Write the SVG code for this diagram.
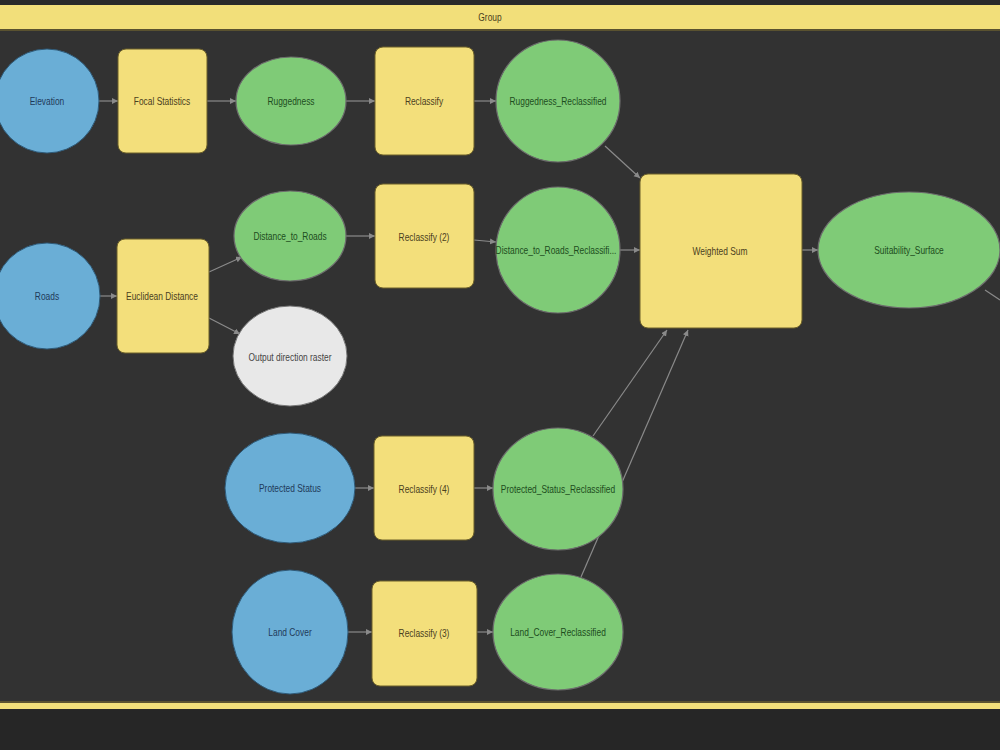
<svg xmlns="http://www.w3.org/2000/svg" width="1000" height="750" viewBox="0 0 1000 750">
<defs>
<style>
text{font-family:"Liberation Sans",Arial,sans-serif;font-size:10.5px;text-anchor:middle;dominant-baseline:central}
.in{fill:#6aaed6;stroke:#2f5a78;stroke-width:1}
.in+text{fill:#1f3a5a}
.tool{fill:#f3df7b;stroke:#6b5f2a;stroke-width:1}
.tool+text{fill:#4a4020}
.out{fill:#7fcb77;stroke:#6d6d6d;stroke-width:1.2}
.out+text{fill:#1d4d1d}
.aux{fill:#e8e8e8;stroke:#777;stroke-width:1}
.aux+text{fill:#444}
.edge{stroke:#8a8a8a;stroke-width:1.2;fill:none;marker-end:url(#ah)}
</style>
<marker id="ah" markerWidth="8" markerHeight="8" refX="6" refY="3" orient="auto" markerUnits="userSpaceOnUse">
<path d="M0,0 L6,3 L0,6 z" fill="#8a8a8a"/>
</marker>
</defs>
<rect x="0" y="0" width="1000" height="750" fill="#323232"/>
<rect x="0" y="0" width="1000" height="5" fill="#2a2a2a"/>
<rect x="0" y="5" width="1000" height="25" fill="#f2df7a"/>
<rect x="0" y="29" width="1000" height="2" fill="#5a5230"/>
<text transform="translate(490,17) scale(0.8,1)" fill="#4a4020">Group</text>
<rect x="0" y="701" width="1000" height="2" fill="#5a5230"/>
<rect x="0" y="703" width="1000" height="6" fill="#f2df7a"/>
<rect x="0" y="709" width="1000" height="41" fill="#262626"/>

<g id="connectors">
<line class="edge" x1="99" y1="101" x2="118" y2="101"/>
<line class="edge" x1="207" y1="101" x2="236" y2="101"/>
<line class="edge" x1="346" y1="101" x2="375" y2="101"/>
<line class="edge" x1="474" y1="101" x2="496" y2="101"/>
<line class="edge" x1="605" y1="146" x2="640" y2="178"/>
<line class="edge" x1="100" y1="296" x2="117" y2="296"/>
<line class="edge" x1="209" y1="272" x2="242" y2="257"/>
<line class="edge" x1="209" y1="318" x2="240" y2="334"/>
<line class="edge" x1="346" y1="236" x2="375" y2="236"/>
<line class="edge" x1="474" y1="240" x2="496" y2="242"/>
<line class="edge" x1="620" y1="250" x2="640" y2="250"/>
<line class="edge" x1="802" y1="250" x2="818" y2="250"/>
<line class="edge" x1="355" y1="488" x2="374" y2="488"/>
<line class="edge" x1="474" y1="488" x2="493" y2="488"/>
<line class="edge" x1="593" y1="436" x2="667" y2="330"/>
<line class="edge" x1="581" y1="577" x2="688" y2="330"/>
<line class="edge" x1="348" y1="632" x2="372" y2="632"/>
<line class="edge" x1="477" y1="632" x2="493" y2="632"/>
<line x1="985" y1="290" x2="1000" y2="300" stroke="#8a8a8a" stroke-width="1.2"/>
</g>

<g id="elevation"><circle class="in" cx="47" cy="101" r="52"/><text transform="translate(47,101) scale(0.8,1)">Elevation</text></g>
<g id="focal-statistics"><rect class="tool" x="118" y="49" width="89" height="104" rx="8"/><text transform="translate(162,101) scale(0.8,1)">Focal Statistics</text></g>
<g id="ruggedness"><ellipse class="out" cx="291" cy="101" rx="55" ry="44"/><text transform="translate(291,101) scale(0.8,1)">Ruggedness</text></g>
<g id="reclassify"><rect class="tool" x="375" y="47" width="99" height="108" rx="8"/><text transform="translate(424,101) scale(0.8,1)">Reclassify</text></g>
<g id="ruggedness-reclassified"><ellipse class="out" cx="558" cy="101" rx="62" ry="61"/><text transform="translate(558,101) scale(0.8,1)">Ruggedness_Reclassified</text></g>

<g id="roads"><circle class="in" cx="47" cy="296" r="53"/><text transform="translate(47,296) scale(0.8,1)">Roads</text></g>
<g id="euclidean-distance"><rect class="tool" x="117" y="239" width="92" height="114" rx="8"/><text transform="translate(162,296) scale(0.8,1)">Euclidean Distance</text></g>
<g id="distance-to-roads"><ellipse class="out" cx="290" cy="236" rx="56" ry="45"/><text transform="translate(290,236) scale(0.8,1)">Distance_to_Roads</text></g>
<g id="output-direction-raster"><ellipse class="aux" cx="290" cy="356" rx="57" ry="50"/><text transform="translate(290,357) scale(0.8,1)">Output direction raster</text></g>
<g id="reclassify-2"><rect class="tool" x="375" y="184" width="99" height="104" rx="8"/><text transform="translate(424,237) scale(0.8,1)">Reclassify (2)</text></g>
<g id="distance-to-roads-reclassified"><ellipse class="out" cx="558" cy="250" rx="62" ry="63"/><text transform="translate(556,250) scale(0.8,1)">Distance_to_Roads_Reclassifi...</text></g>

<g id="weighted-sum"><rect class="tool" x="640" y="174" width="162" height="154" rx="8"/><text transform="translate(720,251) scale(0.8,1)">Weighted Sum</text></g>
<g id="suitability-surface"><ellipse class="out" cx="909" cy="250" rx="91" ry="58"/><text transform="translate(909,250) scale(0.8,1)">Suitability_Surface</text></g>

<g id="protected-status"><ellipse class="in" cx="290" cy="488" rx="65" ry="55"/><text transform="translate(290,488) scale(0.8,1)">Protected Status</text></g>
<g id="reclassify-4"><rect class="tool" x="374" y="436" width="100" height="104" rx="8"/><text transform="translate(424,489) scale(0.8,1)">Reclassify (4)</text></g>
<g id="protected-status-reclassified"><ellipse class="out" cx="558" cy="489" rx="65" ry="61"/><text transform="translate(558,489) scale(0.8,1)">Protected_Status_Reclassified</text></g>

<g id="land-cover"><ellipse class="in" cx="290" cy="632" rx="58" ry="62"/><text transform="translate(290,632) scale(0.8,1)">Land Cover</text></g>
<g id="reclassify-3"><rect class="tool" x="372" y="581" width="105" height="105" rx="8"/><text transform="translate(424,633) scale(0.8,1)">Reclassify (3)</text></g>
<g id="land-cover-reclassified"><ellipse class="out" cx="558" cy="632" rx="65" ry="58"/><text transform="translate(558,632) scale(0.8,1)">Land_Cover_Reclassified</text></g>
</svg>
